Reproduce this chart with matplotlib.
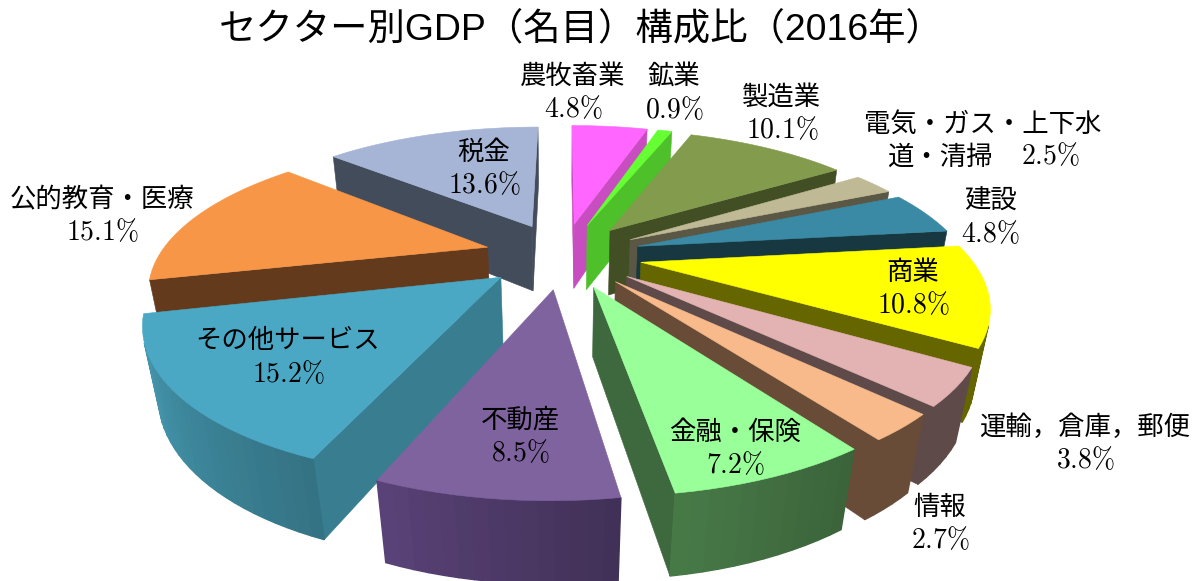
import numpy as np
import matplotlib
matplotlib.use('Agg')
import matplotlib.pyplot as plt
from matplotlib.colors import to_rgb

plt.rcParams['mathtext.fontset'] = 'cm'

# Data (clockwise from 12 o'clock)
sectors = ['農牧畜業', '鉱業', '製造業', '電気・ガス・上下水\n道・清掃', '建設', '商業',
           '運輸，倉庫，郵便', '情報', '金融・保険', '不動産', 'その他サービス',
           '公的教育・医療', '税金']
shares = [4.8, 0.9, 10.1, 2.5, 4.8, 10.8, 3.8, 2.7, 7.2, 8.5, 15.2, 15.1, 13.6]

# Slice colours
top_colors = ['#FF66FF', '#66FF33', '#839B4D', '#BFB995', '#3A89A5', '#FFFF00', '#E3B3B3',
              '#F8BA8A', '#99FF99', '#7F639F', '#4BA8C4', '#F79646', '#A6B5D6']
side_colors = ['#C84DC0', '#4DC02A', '#424F25', '#5A5845', '#173841', '#666600', '#5F4A4A',
               '#684C37', '#3E693E', '#4A3763', '#397D90', '#643A1D', '#434C5B']
# wall shading, left and right end of the outer wall
wall_shades = [(1, 1), (1, 1), (1, 1), (1, 1), (1, 1), (1, 1), (1, 1),
               (1, 1), (1.15, 0.95), (1.2, 0.88), (1.25, 0.92), (1, 1), (1, 1)]
name_pos = [(573, 76), (674, 77), (782, 97), (983, 124), (990, 201), (913, 272), (1085, 427),
            (940, 507), (735, 432), (520, 420), (288, 341), (102, 200), (484, 152)]
value_pos = [(573, 109), (674, 110), (782, 130), (1050, 156), (990, 234), (913, 305), (1085, 460),
             (940, 540), (735, 465), (520, 453), (288, 374), (102, 232), (484, 185)]
second_line_pos = (940, 157)

# Projection settings
cx, cy = 563, 255
scale_x, scale_y = 328, 137
depth = 69
persp, persp_z = 0.25, 0.035
explode = 0.24


def project(x, y, low):
    w = 1 + persp * y + persp_z * low
    return cx + scale_x * x / w, cy - (scale_y * y - depth * low) / w


def face(ax, pts, color, lw=0.4):
    # pts: list of (x, y, low). skip faces turned away from the camera
    xy = np.array([project(*p) for p in pts])
    area = np.sum(xy[:, 0] * np.roll(xy[:, 1], -1) - np.roll(xy[:, 0], -1) * xy[:, 1])
    if area > 0:
        return
    ax.fill(xy[:, 0], xy[:, 1], color=color, lw=lw)


fig = plt.figure(figsize=(12.03, 5.81), dpi=100)
ax = fig.add_axes([0, 0, 1, 1])
ax.set_xlim(0, 1203)
ax.set_ylim(581, 0)
ax.axis('off')

edges = np.concatenate([[0], np.cumsum(shares)]) / sum(shares) * 2 * np.pi
mids = (edges[:-1] + edges[1:]) / 2

# back slices first
for i in np.argsort(-np.cos(mids)):
    a0, a1 = edges[i], edges[i + 1]
    ox, oy = explode * np.sin(mids[i]), explode * np.cos(mids[i])
    theta = np.linspace(a0, a1, max(6, int((a1 - a0) * 30)))
    xs = ox + np.sin(theta)
    ys = oy + np.cos(theta)
    side = np.array(to_rgb(side_colors[i]))

    # cut faces
    face(ax, [(ox, oy, 0), (xs[0], ys[0], 0), (xs[0], ys[0], 1), (ox, oy, 1)], side)
    face(ax, [(xs[-1], ys[-1], 0), (ox, oy, 0), (ox, oy, 1), (xs[-1], ys[-1], 1)], side)

    # outer wall in strips
    for j in range(len(theta) - 1):
        f = wall_shades[i][1] + (wall_shades[i][0] - wall_shades[i][1]) * j / (len(theta) - 2)
        col = np.clip(side * f, 0, 1)
        face(ax, [(xs[j], ys[j], 0), (xs[j + 1], ys[j + 1], 0),
                  (xs[j + 1], ys[j + 1], 1), (xs[j], ys[j], 1)], col, lw=1.0)

    # top
    top = np.array([project(ox, oy, 0)] + [project(x, y, 0) for x, y in zip(xs, ys)])
    ax.fill(top[:, 0], top[:, 1], color=top_colors[i], lw=0.4)

# Labels
name_font = ['Noto Sans CJK JP']
for name, v, (nx, ny), (vx, vy) in zip(sectors, shares, name_pos, value_pos):
    if '\n' in name:
        # the long label wraps, its value sits on the second line
        first, second = name.split('\n')
        ax.text(nx, ny, first, ha='center', va='center', fontsize=19, family=name_font)
        ax.text(second_line_pos[0], second_line_pos[1], second, ha='center', va='center',
                fontsize=19, family=name_font)
    else:
        ax.text(nx, ny, name, ha='center', va='center', fontsize=19, family=name_font)
    ax.text(vx, vy, f'${v}\\%$', ha='center', va='center', fontsize=20, color='black')

ax.text(581, 31, 'セクター別GDP（名目）構成比（2016年）', ha='center', va='center', fontsize=26.9,
        family=['Liberation Sans', 'Noto Sans CJK JP'], color='black')

fig.savefig('out.png', dpi=100)
